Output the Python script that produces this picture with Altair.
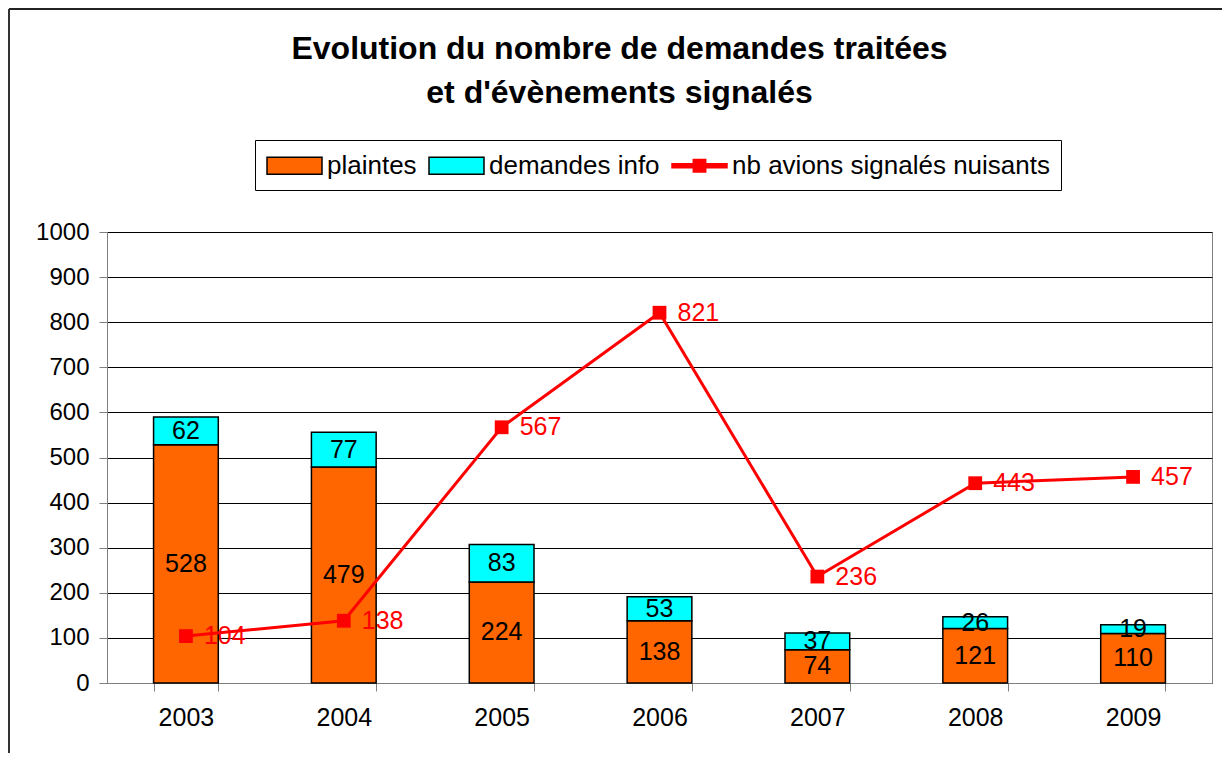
import altair as alt
import pandas as pd

FONT = "Liberation Sans"

years = ["2003", "2004", "2005", "2006", "2007", "2008", "2009"]
plaintes = [528, 479, 224, 138, 74, 121, 110]
demandes = [62, 77, 83, 53, 37, 26, 19]
avions = [104, 138, 567, 821, 236, 443, 457]

series = ["plaintes", "demandes info", "nb avions signalés nuisants"]
fills = ["#FF6600", "#00FFFF", "#FF0000"]
strokes = ["#000000", "#000000", "#FF0000"]
shapes = [
    "M-2,-0.62H2V0.62H-2Z",
    "M-2,-0.62H2V0.62H-2Z",
    "M-2,-0.15H2V0.15H-2Z M-0.45,-0.45H0.45V0.45H-0.45Z",
]

rows = []
for i, yr in enumerate(years):
    rows.append({"annee": yr, "serie": series[0], "valeur": plaintes[i], "rang": 0})
    rows.append({"annee": yr, "serie": series[1], "valeur": demandes[i], "rang": 1})
bars_df = pd.DataFrame(rows)
line_df = pd.DataFrame({"annee": years, "serie": series[2], "valeur": avions})

leg = alt.Legend(
    title=None, orient="none", legendX=148, legendY=-92, direction="horizontal",
    fillColor="white", strokeColor="#000000", padding=11,
    labelFontSize=26, labelFont=FONT, labelColor="black", labelLimit=600,
    symbolSize=756, symbolStrokeWidth=1.5, symbolOffset=14, labelOffset=18,
    columnPadding=9,
)

x_enc = alt.X(
    "annee:N", title=None, sort=years,
    scale=alt.Scale(paddingInner=0.59, paddingOuter=0.295),
    axis=alt.Axis(labelAngle=0, labelFontSize=25, labelFont=FONT, labelColor="black",
                  tickBand="extent", tickSize=8, tickColor="#808080",
                  domainColor="#808080", labelPadding=14, grid=False),
)
yscale = alt.Scale(domain=[0, 1000], nice=False)
yaxis = alt.Axis(values=list(range(0, 1001, 100)), format="d", labelFontSize=24,
                 labelFont=FONT, labelColor="black", tickSize=8, tickColor="#808080",
                 domainColor="#808080", labelPadding=10, grid=True,
                 gridColor="#000000", gridWidth=1)

fill_enc = alt.Fill("serie:N", scale=alt.Scale(domain=series, range=fills), legend=leg)
stroke_enc = alt.Stroke("serie:N", scale=alt.Scale(domain=series, range=strokes), legend=leg)
shape_enc = alt.Shape("serie:N", scale=alt.Scale(domain=series, range=shapes), legend=leg)

frame_data = alt.Data(values=[{}])
frame_top = alt.Chart(frame_data).mark_rule(color="#222222", strokeWidth=2).encode(
    x=alt.value(-98), x2=alt.value(1115), y=alt.value(-223))
frame_left = alt.Chart(frame_data).mark_rule(color="#333333", strokeWidth=2).encode(
    x=alt.value(-98), y=alt.value(-223), y2=alt.value(521))

bars = alt.Chart(bars_df).mark_bar(strokeWidth=1.5).encode(
    x=x_enc,
    y=alt.Y("valeur:Q", stack="zero", scale=yscale, axis=yaxis, title=None),
    fill=fill_enc, stroke=stroke_enc, order=alt.Order("rang:Q"),
)

bar_text = alt.Chart(bars_df).transform_stack(
    stack="valeur", groupby=["annee"], sort=[alt.SortField("rang")], as_=["v0", "v1"]
).transform_calculate(mid="(datum.v0 + datum.v1) / 2").mark_text(
    fontSize=25, font=FONT, color="black", baseline="middle"
).encode(x=x_enc, y=alt.Y("mid:Q", scale=yscale), text="valeur:Q")

line = alt.Chart(line_df).mark_line(strokeWidth=3).encode(
    x=x_enc, y=alt.Y("valeur:Q", scale=yscale), stroke=stroke_enc)
pts = alt.Chart(line_df).mark_point(shape="square", filled=True, size=190,
                                    color="#FF0000", opacity=1).encode(
    x=x_enc, y=alt.Y("valeur:Q", scale=yscale))
line_text = alt.Chart(line_df).mark_text(
    fontSize=25, font=FONT, color="#FF0000", align="left", baseline="middle", dx=18
).encode(x=x_enc, y=alt.Y("valeur:Q", scale=yscale), text="valeur:Q")

legend_layer = alt.Chart(line_df).transform_filter("false").mark_point(opacity=1).encode(
    fill=fill_enc, stroke=stroke_enc, shape=shape_enc)

chart = alt.layer(
    frame_top, frame_left, bars, bar_text, line, pts, line_text, legend_layer
).properties(
    width=1105, height=451,
    title=alt.Title(["Evolution du nombre de demandes traitées", "et d'évènements signalés"],
                    fontSize=32, fontWeight="bold", font=FONT, anchor="middle",
                    dx=-40, offset=-102, lineHeight=44, color="black"),
    padding={"left": 99, "top": 224, "right": 10, "bottom": 70},
    autosize=alt.AutoSizeParams(type="none"),
).configure_view(fill="#C0C0C0", stroke="#808080")

chart.save("out.html", embed_options={"renderer": "svg", "actions": False})
